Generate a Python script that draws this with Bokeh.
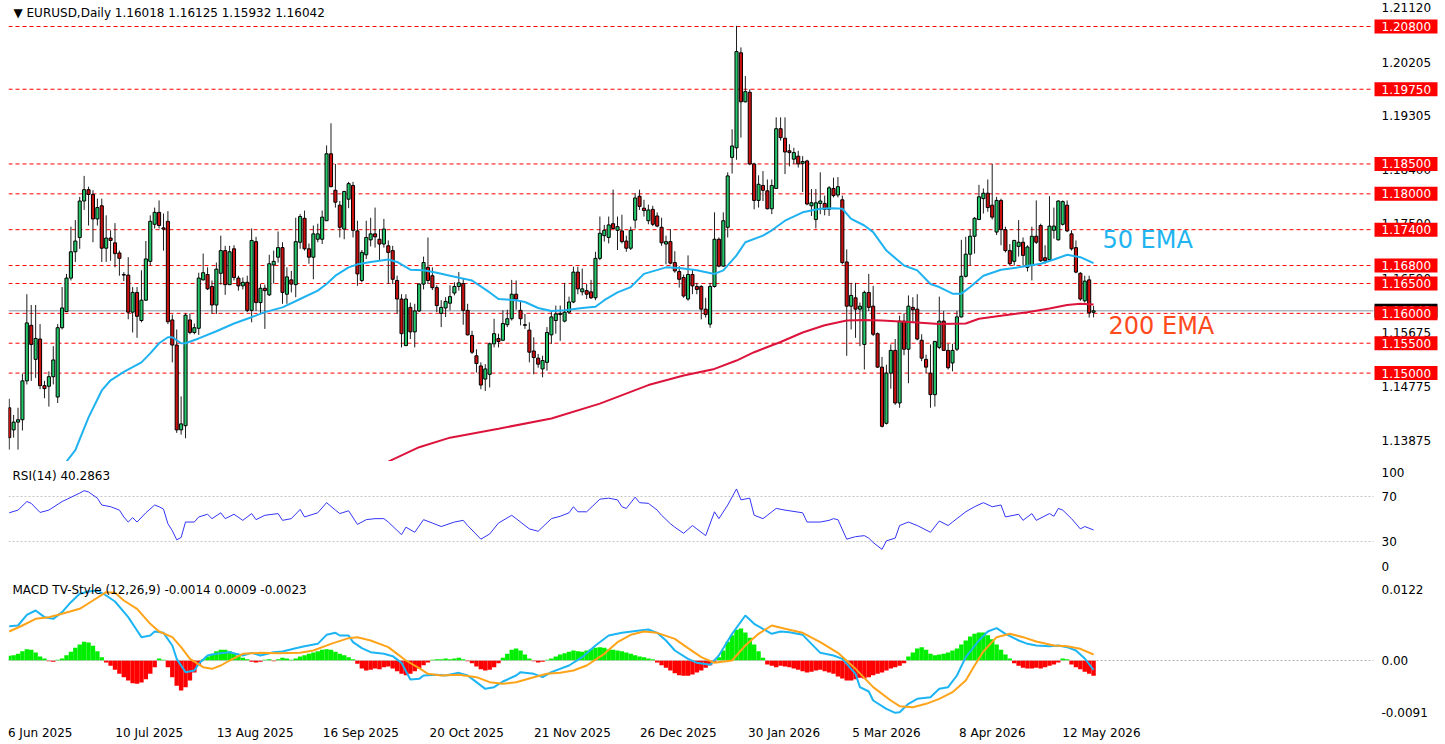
import numpy as np
from bokeh.plotting import figure
from bokeh.layouts import column
from bokeh.models import Range1d, FixedTicker, Label, ColumnDataSource
from bokeh.core.properties import value
from bokeh.embed import file_html
from bokeh.resources import INLINE

# ---------------- data ----------------
opens = [
    1.1442, 1.1405, 1.1418, 1.1422, 1.1487, 1.1580, 1.1523, 1.1557, 1.1479, 1.1478,
    1.1494, 1.1460, 1.1576, 1.1603, 1.1659, 1.1703, 1.1727, 1.1788, 1.1807, 1.1799,
    1.1758, 1.1780, 1.1709, 1.1726, 1.1718, 1.1701, 1.1665, 1.1664, 1.1602, 1.1635,
    1.1588, 1.1622, 1.1687, 1.1749, 1.1769, 1.1743, 1.1754, 1.1589, 1.1547, 1.1405,
    1.1412, 1.1589, 1.1568, 1.1575, 1.1656, 1.1665, 1.1645, 1.1614, 1.1667, 1.1705,
    1.1648, 1.1708, 1.1659, 1.1646, 1.1652, 1.1605, 1.1720, 1.1618, 1.1642, 1.1631,
    1.1681, 1.1694, 1.1710, 1.1632, 1.1656, 1.1648, 1.1719, 1.1759, 1.1708, 1.1694,
    1.1724, 1.1724, 1.1755, 1.1867, 1.1806, 1.1781, 1.1741, 1.1791, 1.1814, 1.1738,
    1.1655, 1.1698, 1.1723, 1.1733, 1.1724, 1.1716, 1.1713, 1.1705, 1.1655, 1.1624,
    1.1546, 1.1610, 1.1569, 1.1604, 1.1649, 1.1677, 1.1663, 1.1643, 1.1600, 1.1609,
    1.1617, 1.1634, 1.1645, 1.1650, 1.1605, 1.1563, 1.1529, 1.1512, 1.1490, 1.1498,
    1.1549, 1.1558, 1.1555, 1.1581, 1.1591, 1.1632, 1.1605, 1.1581, 1.1572, 1.1537,
    1.1525, 1.1507, 1.1518, 1.1564, 1.1588, 1.1598, 1.1587, 1.1602, 1.1619, 1.1669,
    1.1636, 1.1638, 1.1636, 1.1626, 1.1692, 1.1730, 1.1727, 1.1750, 1.1739, 1.1738,
    1.1721, 1.1709, 1.1756, 1.1796, 1.1776, 1.1755, 1.1774, 1.1763, 1.1744, 1.1716,
    1.1720, 1.1685, 1.1670, 1.1660, 1.1624, 1.1665, 1.1645, 1.1645, 1.1607, 1.1582,
    1.1645, 1.1724, 1.1679, 1.1744, 1.1861, 1.1877, 1.2036, 1.1954, 1.1970, 1.1850,
    1.1789, 1.1814, 1.1805, 1.1775, 1.1809, 1.1909, 1.1893, 1.1872, 1.1858, 1.1863,
    1.1851, 1.1855, 1.1780, 1.1757, 1.1784, 1.1784, 1.1774, 1.1809, 1.1798, 1.1790,
    1.1686, 1.1612, 1.1626, 1.1607, 1.1548, 1.1635, 1.1612, 1.1566, 1.1510, 1.1416,
    1.1500, 1.1538, 1.1450, 1.1587, 1.1540, 1.1610, 1.1607, 1.1555, 1.1523, 1.1500,
    1.1464, 1.1543, 1.1587, 1.1538, 1.1517, 1.1540, 1.1594, 1.1662, 1.1699, 1.1729,
    1.1757, 1.1792, 1.1801, 1.1781, 1.1736, 1.1789, 1.1740, 1.1705, 1.1687, 1.1712,
    1.1719, 1.1677, 1.1680, 1.1729, 1.1747, 1.1693, 1.1690, 1.1739, 1.1723, 1.1749,
    1.1781, 1.1733, 1.1710, 1.1667, 1.1621, 1.1656, 1.16018]
highs = [
    1.1457, 1.1430, 1.1442, 1.1499, 1.1632, 1.1614, 1.1614, 1.1582, 1.1487, 1.1503,
    1.1545, 1.1582, 1.1644, 1.1666, 1.1745, 1.1756, 1.1795, 1.1830, 1.1812, 1.1806,
    1.1792, 1.1792, 1.1764, 1.1739, 1.1751, 1.1705, 1.1669, 1.1694, 1.1644, 1.1644,
    1.1672, 1.1721, 1.1764, 1.1777, 1.1789, 1.1767, 1.1771, 1.1598, 1.1573, 1.1461,
    1.1600, 1.1600, 1.1583, 1.1668, 1.1700, 1.1677, 1.1655, 1.1685, 1.1730, 1.1713,
    1.1713, 1.1714, 1.1663, 1.1660, 1.1663, 1.1742, 1.1728, 1.1649, 1.1648, 1.1698,
    1.1705, 1.1737, 1.1719, 1.1677, 1.1671, 1.1760, 1.1766, 1.1772, 1.1717, 1.1747,
    1.1750, 1.1772, 1.1881, 1.1918, 1.1850, 1.1788, 1.1805, 1.1820, 1.1820, 1.1755,
    1.1706, 1.1755, 1.1760, 1.1777, 1.1741, 1.1758, 1.1722, 1.1713, 1.1663, 1.1632,
    1.1632, 1.1618, 1.1616, 1.1650, 1.1695, 1.1727, 1.1677, 1.1647, 1.1622, 1.1627,
    1.1647, 1.1652, 1.1669, 1.1658, 1.1616, 1.1571, 1.1540, 1.1518, 1.1515, 1.1551,
    1.1591, 1.1566, 1.1605, 1.1606, 1.1656, 1.1655, 1.1622, 1.1599, 1.1585, 1.1560,
    1.1532, 1.1529, 1.1577, 1.1602, 1.1613, 1.1613, 1.1651, 1.1628, 1.1678, 1.1678,
    1.1675, 1.1649, 1.1656, 1.1703, 1.1762, 1.1748, 1.1762, 1.1807, 1.1762, 1.1765,
    1.1730, 1.1745, 1.1801, 1.1807, 1.1790, 1.1782, 1.1780, 1.1769, 1.1760, 1.1730,
    1.1741, 1.1704, 1.1679, 1.1665, 1.1697, 1.1674, 1.1651, 1.1647, 1.1626, 1.1651,
    1.1769, 1.1727, 1.1769, 1.1836, 1.1908, 1.2081, 1.2045, 1.1997, 1.1975, 1.1852,
    1.1831, 1.1838, 1.1824, 1.1824, 1.1928, 1.1928, 1.1928, 1.1883, 1.1877, 1.1872,
    1.1863, 1.1857, 1.1808, 1.1808, 1.1836, 1.1797, 1.1813, 1.1827, 1.1828, 1.1797,
    1.1707, 1.1651, 1.1651, 1.1618, 1.1638, 1.1666, 1.1646, 1.1568, 1.1527, 1.1514,
    1.1548, 1.1557, 1.1596, 1.1600, 1.1630, 1.1627, 1.1632, 1.1565, 1.1531, 1.1548,
    1.1554, 1.1628, 1.1604, 1.1549, 1.1549, 1.1604, 1.1723, 1.1728, 1.1740, 1.1761,
    1.1815, 1.1809, 1.1824, 1.1850, 1.1795, 1.1792, 1.1745, 1.1716, 1.1723, 1.1756,
    1.1727, 1.1714, 1.1745, 1.1789, 1.1750, 1.1714, 1.1796, 1.1777, 1.1789, 1.1789,
    1.1789, 1.1739, 1.1722, 1.1669, 1.1663, 1.1663, 1.16125]
lows = [
    1.1372, 1.1392, 1.1372, 1.1404, 1.1481, 1.1487, 1.1492, 1.1473, 1.1458, 1.1444,
    1.1481, 1.1450, 1.1573, 1.1602, 1.1655, 1.1686, 1.1708, 1.1773, 1.1747, 1.1719,
    1.1747, 1.1686, 1.1686, 1.1688, 1.1677, 1.1663, 1.1654, 1.1590, 1.1568, 1.1559,
    1.1585, 1.1621, 1.1680, 1.1742, 1.1742, 1.1705, 1.1582, 1.1518, 1.1400, 1.1397,
    1.1391, 1.1565, 1.1565, 1.1564, 1.1655, 1.1639, 1.1599, 1.1599, 1.1648, 1.1631,
    1.1648, 1.1655, 1.1638, 1.1640, 1.1602, 1.1585, 1.1604, 1.1599, 1.1574, 1.1629,
    1.1650, 1.1685, 1.1616, 1.1616, 1.1635, 1.1627, 1.1708, 1.1705, 1.1683, 1.1657,
    1.1719, 1.1716, 1.1755, 1.1811, 1.1777, 1.1727, 1.1724, 1.1776, 1.1727, 1.1646,
    1.1652, 1.1691, 1.1712, 1.1710, 1.1689, 1.1710, 1.1649, 1.1649, 1.1599, 1.1543,
    1.1546, 1.1557, 1.1543, 1.1602, 1.1640, 1.1649, 1.1639, 1.1602, 1.1577, 1.1594,
    1.1605, 1.1630, 1.1638, 1.1581, 1.1563, 1.1532, 1.1501, 1.1473, 1.1470, 1.1476,
    1.1543, 1.1543, 1.1554, 1.1577, 1.1588, 1.1606, 1.1580, 1.1574, 1.1518, 1.1498,
    1.1509, 1.1493, 1.1504, 1.1549, 1.1566, 1.1554, 1.1585, 1.1599, 1.1617, 1.1632,
    1.1630, 1.1624, 1.1624, 1.1622, 1.1689, 1.1720, 1.1717, 1.1742, 1.1706, 1.1717,
    1.1703, 1.1706, 1.1742, 1.1773, 1.1762, 1.1749, 1.1746, 1.1744, 1.1713, 1.1682,
    1.1682, 1.1668, 1.1643, 1.1626, 1.1621, 1.1632, 1.1632, 1.1590, 1.1593, 1.1576,
    1.1643, 1.1677, 1.1678, 1.1727, 1.1834, 1.1857, 1.1894, 1.1953, 1.1848, 1.1774,
    1.1777, 1.1788, 1.1774, 1.1766, 1.1808, 1.1889, 1.1833, 1.1846, 1.1850, 1.1844,
    1.1803, 1.1781, 1.1763, 1.1742, 1.1766, 1.1764, 1.1763, 1.1794, 1.1794, 1.1682,
    1.1529, 1.1573, 1.1559, 1.1545, 1.1506, 1.1604, 1.1562, 1.1509, 1.1409, 1.1414,
    1.1474, 1.1447, 1.1442, 1.1530, 1.1483, 1.1585, 1.1555, 1.1520, 1.1500, 1.1442,
    1.1444, 1.1540, 1.1537, 1.1506, 1.1503, 1.1537, 1.1593, 1.1660, 1.1680, 1.1700,
    1.1756, 1.1767, 1.1770, 1.1757, 1.1731, 1.1714, 1.1702, 1.1680, 1.1680, 1.1695,
    1.1680, 1.1670, 1.1655, 1.1716, 1.1686, 1.1683, 1.1688, 1.1725, 1.1722, 1.1747,
    1.1736, 1.1705, 1.1667, 1.1621, 1.1618, 1.1593, 1.15932]
closes = [
    1.1392, 1.1418, 1.1422, 1.1487, 1.1584, 1.1548, 1.1558, 1.1479, 1.1474, 1.1494,
    1.1522, 1.1576, 1.1609, 1.1659, 1.1703, 1.1721, 1.1788, 1.1807, 1.1799, 1.1758,
    1.1777, 1.1709, 1.1726, 1.1722, 1.1700, 1.1692, 1.1664, 1.1602, 1.1635, 1.1595,
    1.1622, 1.1691, 1.1754, 1.1769, 1.1747, 1.1741, 1.1586, 1.1547, 1.1405, 1.1415,
    1.1597, 1.1568, 1.1576, 1.1659, 1.1668, 1.1641, 1.1614, 1.1674, 1.1705, 1.1648,
    1.1703, 1.1660, 1.1646, 1.1652, 1.1605, 1.1722, 1.1618, 1.1642, 1.1638, 1.1683,
    1.1687, 1.1710, 1.1635, 1.1661, 1.1649, 1.1720, 1.1762, 1.1708, 1.1694, 1.1733,
    1.1733, 1.1761, 1.1867, 1.1812, 1.1786, 1.1744, 1.1804, 1.1817, 1.1739, 1.1666,
    1.1702, 1.1727, 1.1733, 1.1728, 1.1716, 1.1741, 1.1702, 1.1657, 1.1624, 1.1566,
    1.1624, 1.1569, 1.1604, 1.1649, 1.1685, 1.1655, 1.1643, 1.1613, 1.1610, 1.1620,
    1.1628, 1.1645, 1.1651, 1.1605, 1.1564, 1.1535, 1.1516, 1.1480, 1.1507, 1.1549,
    1.1566, 1.1553, 1.1583, 1.1591, 1.1632, 1.1624, 1.1591, 1.1580, 1.1535, 1.1526,
    1.1515, 1.1521, 1.1568, 1.1594, 1.1599, 1.1600, 1.1602, 1.1619, 1.1669, 1.1641,
    1.1641, 1.1632, 1.1626, 1.1692, 1.1734, 1.1739, 1.1748, 1.1742, 1.1745, 1.1720,
    1.1709, 1.1739, 1.1793, 1.1779, 1.1772, 1.1773, 1.1749, 1.1746, 1.1718, 1.1720,
    1.1684, 1.1671, 1.1657, 1.1629, 1.1665, 1.1646, 1.1640, 1.1607, 1.1598, 1.1645,
    1.1724, 1.1679, 1.1755, 1.1830, 1.1880, 1.2038, 1.1954, 1.1971, 1.1850, 1.1789,
    1.1816, 1.1806, 1.1775, 1.1814, 1.1909, 1.1894, 1.1870, 1.1869, 1.1869, 1.1850,
    1.1854, 1.1783, 1.1785, 1.1785, 1.1788, 1.1774, 1.1810, 1.1797, 1.1812, 1.1685,
    1.1612, 1.1630, 1.1607, 1.1612, 1.1635, 1.1610, 1.1565, 1.1510, 1.1411, 1.1500,
    1.1538, 1.1450, 1.1587, 1.1540, 1.1612, 1.1606, 1.1557, 1.1525, 1.1510, 1.1464,
    1.1553, 1.1587, 1.1538, 1.1509, 1.1538, 1.1594, 1.1662, 1.1699, 1.1729, 1.1759,
    1.1795, 1.1801, 1.1777, 1.1761, 1.1789, 1.1740, 1.1705, 1.1683, 1.1722, 1.1719,
    1.1697, 1.1711, 1.1729, 1.1719, 1.1688, 1.1688, 1.1746, 1.1746, 1.1788, 1.1787,
    1.1738, 1.1708, 1.1669, 1.1624, 1.1654, 1.1601, 1.16042]

ema50_idx = [12, 13, 15, 18, 21, 23, 26, 30, 32, 34, 36, 37, 39, 40, 43, 47, 51, 54, 58, 62,
             66, 70, 72, 74, 77, 79, 82, 86, 88, 91, 94, 97, 100, 105, 109, 111, 115, 117, 120, 123,
             126, 130, 133, 135, 138, 141, 144, 149, 152, 156, 160, 162, 165, 167, 171, 173, 176, 180, 184, 187,
             189, 191, 194, 196, 199, 203, 206, 209, 211, 214, 216, 218, 221, 225, 229, 234, 237, 240, 243, 246]
ema50_val = [1.1335, 1.1352, 1.1371, 1.1426, 1.1471, 1.1488, 1.1502, 1.1518, 1.1533, 1.1550,
             1.1560, 1.1560, 1.1550, 1.1550, 1.1558, 1.1570, 1.1583, 1.1591, 1.1602, 1.1610,
             1.1624, 1.1638, 1.1649, 1.1663, 1.1677, 1.1682, 1.1686, 1.1690, 1.1686, 1.1673,
             1.1672, 1.1668, 1.1663, 1.1655, 1.1635, 1.1624, 1.1622, 1.1619, 1.1609, 1.1604,
             1.1605, 1.1609, 1.1611, 1.1622, 1.1635, 1.1644, 1.1666, 1.1677, 1.1676, 1.1672,
             1.1666, 1.1672, 1.1697, 1.1719, 1.1730, 1.1739, 1.1755, 1.1769, 1.1775, 1.1776,
             1.1775, 1.1758, 1.1747, 1.1736, 1.1705, 1.1680, 1.1672, 1.1649, 1.1644, 1.1633,
             1.1633, 1.1644, 1.1663, 1.1673, 1.1677, 1.1683, 1.1690, 1.1698, 1.1694, 1.1684]

ema200_idx = [86, 93, 100, 111, 123, 134, 145, 153, 160, 165, 169, 175, 180, 185, 190, 194,
              198, 205, 211, 217, 220, 225, 231, 236, 240, 243, 246]
ema200_val = [1.1352, 1.1376, 1.1392, 1.1407, 1.1424, 1.1449, 1.1480, 1.1496, 1.1507, 1.1521,
              1.1535, 1.1552, 1.1568, 1.1580, 1.1588, 1.1589, 1.1588, 1.1585, 1.1582, 1.1583,
              1.1591, 1.1596, 1.1602, 1.1608, 1.1614, 1.1616, 1.1615]

rsi_idx = [0, 2, 4, 5, 7, 9, 12, 16, 17, 18, 20, 21, 23, 25, 26, 27, 28, 29, 31, 33,
           34, 35, 36, 37, 38, 39, 40, 42, 43, 45, 46, 48, 49, 51, 53, 55, 56, 58, 61, 62,
           64, 66, 67, 70, 72, 74, 75, 77, 79, 81, 83, 85, 86, 89, 90, 92, 94, 96, 98, 101,
           103, 104, 107, 109, 111, 114, 115, 118, 120, 123, 125, 127, 128, 129, 131, 134, 136, 138, 139, 140,
           142, 143, 145, 147, 148, 150, 151, 153, 155, 156, 158, 160, 161, 163, 165, 166, 168, 169, 171, 172,
           174, 176, 180, 181, 184, 186, 187, 188, 190, 192, 194, 195, 196, 198, 199, 201, 202, 204, 206, 209,
           211, 213, 214, 217, 219, 221, 223, 225, 226, 229, 230, 232, 233, 236, 237, 238, 239, 241, 243, 244, 246]
rsi_val = [55.5, 57.9, 65.5, 63.9, 55.8, 57.9, 65.5, 73.0, 75.2, 74.0, 68.5, 62.4, 60.9, 57.9, 51.8, 47.3, 51.2, 47.3, 55.5, 62.4,
           60.9, 58.8, 45.8, 39.7, 31.5, 33.6, 47.3, 47.3, 51.8, 54.2, 50.3, 55.5, 50.3, 54.2, 48.8, 54.8, 49.4, 53.3, 54.8, 48.8,
           50.3, 58.5, 51.8, 55.5, 64.5, 57.9, 54.8, 57.3, 45.2, 49.4, 50.3, 50.3, 47.3, 36.1, 42.7, 38.2, 49.4, 46.4, 43.3, 47.3,
           48.8, 44.2, 32.1, 36.7, 46.4, 53.3, 50.3, 41.2, 39.1, 50.3, 52.4, 55.5, 60.9, 56.4, 56.4, 67.6, 68.5, 67.0, 60.9, 59.4,
           69.4, 64.5, 63.9, 57.9, 53.3, 45.8, 42.7, 37.3, 44.2, 41.2, 35.2, 56.4, 50.3, 62.4, 76.7, 67.0, 68.5, 53.3, 50.3, 53.3,
           59.4, 57.9, 55.5, 47.3, 47.3, 48.8, 50.3, 49.4, 32.1, 34.3, 35.2, 33.0, 29.1, 23.0, 30.6, 33.0, 44.2, 47.3, 44.2, 38.2,
           48.2, 44.2, 47.3, 56.4, 60.9, 64.5, 60.9, 62.4, 51.8, 54.2, 48.8, 54.8, 48.8, 54.8, 52.4, 59.4, 57.9, 50.3, 41.2, 43.3, 40.2863]

macd_idx = [0, 2, 4, 6, 8, 10, 12, 14, 16, 18, 20, 22, 24, 27, 29, 30, 32, 33, 35, 37,
            38, 40, 42, 43, 45, 47, 50, 53, 55, 57, 60, 62, 65, 67, 70, 72, 74, 75, 77, 78,
            80, 82, 85, 87, 89, 91, 93, 94, 97, 99, 102, 104, 106, 108, 110, 112, 115, 116, 119, 121,
            123, 127, 130, 133, 136, 139, 143, 145, 147, 149, 151, 154, 156, 159, 161, 164, 167, 169, 171, 173,
            175, 177, 180, 182, 184, 187, 189, 192, 193, 195, 196, 199, 201, 202, 204, 206, 209, 211, 213, 215,
            217, 220, 222, 224, 226, 229, 231, 233, 236, 238, 240, 242, 244, 246]
macd_val = [0.00515, 0.00525, 0.00685, 0.0075, 0.0065, 0.00625, 0.00725, 0.00875, 0.0100, 0.01035,
            0.0105, 0.00975, 0.00885, 0.0065, 0.0045, 0.0035, 0.00375, 0.00435, 0.00415, 0.00225,
            0.00025, -0.00175, -0.0015, -0.0005, 0.00075, 0.0010, 0.00125, 0.00075, 0.00115, 0.00075,
            0.00125, 0.00135, 0.00185, 0.00215, 0.0025, 0.00385, 0.00415, 0.00375, 0.00375, 0.00275,
            0.00185, 0.00125, 0.0010, 0.00065, -0.00035, -0.00285, -0.00275, -0.00225, -0.00215, -0.00225,
            -0.00185, -0.00225, -0.00325, -0.00425, -0.0040, -0.00315, -0.00225, -0.00175, -0.0020, -0.0025,
            -0.00175, -0.00075, 0.0005, 0.00225, 0.00375, 0.00415, 0.0045, 0.00465, 0.00415, 0.0030,
            0.0015, 0.00025, -0.00035, -0.00065, 0.00075, 0.0040, 0.00675, 0.0055, 0.00475, 0.0040,
            0.00435, 0.00425, 0.00385, 0.0025, 0.00115, 0.00075, 0.00025, -0.0020, -0.0040, -0.00465,
            -0.0060, -0.00725, -0.00785, -0.00775, -0.0065, -0.00575, -0.0055, -0.00425, -0.0040, -0.00225,
            0.0005, 0.0030, 0.00435, 0.00485, 0.0040, 0.0030, 0.0025, 0.00225, 0.00215, 0.00225,
            0.0020, 0.0015, 0.0003, -0.0014]

signal_idx = [0, 3, 6, 9, 12, 16, 19, 22, 24, 26, 29, 32, 34, 37, 39, 41, 44, 46, 48, 50,
              53, 57, 61, 66, 69, 73, 77, 79, 82, 86, 88, 90, 93, 95, 98, 102, 106, 109, 112, 115,
              119, 122, 125, 128, 131, 135, 138, 141, 144, 147, 151, 154, 157, 160, 164, 167, 170, 173, 176, 180,
              184, 188, 192, 196, 200, 202, 205, 208, 211, 214, 217, 219, 221, 224, 227, 230, 233, 237, 240, 243, 246]
signal_val = [0.00435, 0.00525, 0.00625, 0.0065, 0.0070, 0.00775, 0.0090, 0.01025, 0.01015, 0.0090,
              0.00775, 0.0055, 0.00435, 0.0035, 0.0020, 0.00025, -0.0010, -0.00125, -0.00075, 0.0,
              0.0010, 0.00115, 0.0011, 0.00115, 0.0015, 0.0025, 0.00335, 0.0035, 0.0030, 0.0020,
              0.0010, 0.0, -0.00115, -0.0020, -0.00225, -0.00215, -0.0025, -0.00325, -0.0035, -0.00325,
              -0.0025, -0.0020, -0.00185, -0.0015, -0.00075, 0.0010, 0.00275, 0.00385, 0.00435, 0.00415,
              0.00325, 0.00185, 0.0005, -0.00035, 0.0, 0.00225, 0.0040, 0.00525, 0.00475, 0.00415,
              0.00275, 0.00115, -0.00125, -0.0040, -0.0060, -0.00685, -0.0070, -0.0065, -0.00575, -0.00475,
              -0.0030, -0.00075, 0.00135, 0.0035, 0.0040, 0.0035, 0.00285, 0.00225, 0.00215, 0.00175, 0.0009]

# histogram, one value per bar, in units of 0.0001
hist_e4 = [
    7, 8, 10, 14, 17, 16, 12, 6, 3,
    -1, -2, 1,
    3, 8, 13, 19, 24, 28, 27, 22, 14, 5,
    -3, -8, -14, -20, -25, -30, -34, -35, -33, -28, -20, -10,
    3, 1,
    -10, -25, -38, -45, -40, -30, -18, -7,
    2,
    6, 10, 14, 16, 16, 14, 10, 7, 4,
    2, -2, -3, -2, 1, 2, -1, 2, 4, 3, 1,
    3, 6, 8, 10, 12, 14, 16, 17, 16, 13, 10, 8, 5, 2,
    -5, -12, -15, -14, -12, -13, -10, -9, -12, -16, -20, -22, -20, -16, -12, -7, -3,
    1, 2, 2, 3, 2, 3, 4, 2, -1,
    -4, -9, -13, -15, -14, -10, -4,
    4, 10, 16, 18, 15, 9, 3,
    -1, -3, -2, 1,
    3, 6, 9, 11, 13, 15, 14, 13, 15, 17, 19, 20, 19, 17, 16, 15, 14, 12, 10, 8, 6, 5, 3, 2,
    -3, -7, -11, -15, -19, -22, -23, -23, -21, -18, -15, -11, -7, -2,
    5, 15, 28, 38, 46, 48, 42, 34, 24, 14, 4,
    -6, -8, -10, -8, -9, -10, -12, -14, -16, -18, -17, -15, -14, -16, -18, -20,
    -24, -27, -30, -30, -28, -26, -27, -25, -22, -20, -18, -15, -12, -10, -8, -4,
    6, 12, 18, 20, 16, 10, 8, 9, 10, 12, 15, 18, 24, 30, 36, 40, 42, 42, 38, 32, 24, 16, 9, 3,
    -4, -8, -11, -12, -12, -11, -12, -10, -8, -6, -3,
    3, 2,
    -6, -10, -13, -17, -20, -23]

date_bars = [0, 24, 48, 72, 96, 120, 144, 168, 192, 216, 240]
date_labels = ["6 Jun 2025", "10 Jul 2025", "13 Aug 2025", "16 Sep 2025", "20 Oct 2025",
               "21 Nov 2025", "26 Dec 2025", "30 Jan 2026", "5 Mar 2026", "8 Apr 2026", "12 May 2026"]

price_ticks = [1.21120, 1.20205, 1.19305, 1.18400, 1.17500, 1.16590, 1.15675, 1.14775, 1.13875]
level_lines = [1.208, 1.1975, 1.185, 1.18, 1.174, 1.168, 1.165, 1.16, 1.155, 1.15]
last_price = 1.16042

rsi_tick_vals = [91.3, 70, 30, 7.8]
rsi_tick_text = ["100", "70", "30", "0"]
macd_tick_vals = [0.01065, 0.0, -0.0078]
macd_tick_text = ["0.0122", "0.00", "-0.0091"]

title_text = "\u25bc EURUSD,Daily  1.16018 1.16125 1.15932 1.16042"
rsi_text = "RSI(14) 40.2863"
macd_text = "MACD TV-Style (12,26,9) -0.0014 0.0009 -0.0023"

# ---------------- styling / layout ----------------
FONT = "DejaVu Sans"
FS = "12px"
BAR_PX = 4.408          # pixels per daily bar
LEFT_W = 8
FRAME_W = 1435          # chart area + price scale strip
X0 = -0.16
x_range = Range1d(X0, X0 + FRAME_W / BAR_PX)


def px_to_x(page_x):
    return X0 + (page_x - LEFT_W) / BAR_PX


DATA_END = px_to_x(1373)      # end of the price area (start of the price scale)
SCALE_TEXT_X = px_to_x(1381)  # left edge of the price-scale texts
BOX_CX = px_to_x(1405.5)      # centre of the price boxes
BOX_W, BOX_H = 63, 14

BULL = "#25C76A"
BEAR = "#CC0F0F"


def base_fig(frame_h, y_rng, top_border, bottom_border=0, x_axis=None):
    f = figure(frame_width=FRAME_W, frame_height=frame_h, x_range=x_range, y_range=y_rng,
               y_axis_location=None, x_axis_location=x_axis,
               output_backend="svg", toolbar_location=None, tools="",
               min_border_left=LEFT_W, min_border_right=0, min_border_top=top_border,
               min_border_bottom=bottom_border, background_fill_color="white",
               border_fill_color="white", outline_line_color=None)
    f.grid.visible = False
    return f


def scale_texts(f, ys, texts, color="#000000"):
    f.text(x=[SCALE_TEXT_X] * len(ys), y=ys, text=texts, text_font=value(FONT),
           text_font_size=value(FS), text_color=color, text_baseline="middle",
           text_align="left")


def hlines(f, ys, color, dash, width=1):
    n = len(ys)
    f.segment(x0=[X0] * n, x1=[DATA_END] * n, y0=ys, y1=ys, line_color=color,
              line_dash=dash, line_width=width)


# ---- main price panel ----
p = base_fig(461, Range1d(1.135209, 1.212351), 0)

hlines(p, level_lines, "#FF0000", "4 3")
hlines(p, [last_price], "#8795A5", "solid")

idx = list(range(len(closes)))
src = ColumnDataSource(dict(
    x=idx, o=opens, h=highs, l=lows, c=closes,
    top=[max(a, b) for a, b in zip(opens, closes)],
    bottom=[min(a, b) for a, b in zip(opens, closes)],
    color=[BULL if c >= o else BEAR for o, c in zip(opens, closes)],
))
p.segment(x0="x", y0="l", x1="x", y1="h", source=src, line_color="#1E1E1E", line_width=1)
p.vbar(x="x", width=0.7, top="top", bottom="bottom", fill_color="color",
       line_color="#000000", line_width=1, source=src)

p.line(ema50_idx, ema50_val, line_color="#1FB2F0", line_width=2)
p.line(ema200_idx, ema200_val, line_color="#DC143C", line_width=2)

p.add_layout(Label(x=248.0, y=1.1722, text="50 EMA", text_font=FONT, text_font_size="24px",
                   text_color="#22B4F0", text_baseline="middle", text_align="left"))
p.add_layout(Label(x=249.4, y=1.1578, text="200  EMA", text_font=FONT, text_font_size="24px",
                   text_color="#FF4A1C", text_baseline="middle", text_align="left"))
p.add_layout(Label(x=0.97, y=1.21018, text=title_text, text_font=FONT, text_font_size=FS,
                   text_color="#000000", text_baseline="middle", text_align="left"))

# price scale: plain values, then the current-price box, then the level boxes
scale_texts(p, price_ticks, ["%.5f" % t for t in price_ticks])
p.rect(x=[BOX_CX], y=[last_price], width=BOX_W, height=BOX_H, width_units="screen",
       height_units="screen", fill_color="#000000", line_color=None)
scale_texts(p, [last_price], ["%.5f" % last_price], color="#FFFFFF")
p.rect(x=[BOX_CX] * len(level_lines), y=level_lines, width=BOX_W, height=BOX_H,
       width_units="screen", height_units="screen", fill_color="#FF0000", line_color=None)
scale_texts(p, level_lines, ["%.5f" % v for v in level_lines], color="#FFFFFF")

# ---- RSI panel ----
r = base_fig(112, Range1d(-0.2, 99.3), 2)
hlines(r, [70, 30], "#C4C4C4", "2 2")
r.line(rsi_idx, rsi_val, line_color="#3434F5", line_width=1)
scale_texts(r, rsi_tick_vals, rsi_tick_text)
r.add_layout(Label(x=0.75, y=88.6, text=rsi_text, text_font=FONT, text_font_size=FS,
                   text_color="#000000", text_baseline="middle", text_align="left"))

# ---- MACD panel ----
m = base_fig(142, Range1d(-0.0090, 0.0123), 3, bottom_border=22, x_axis="below")
hist = [v / 10000.0 for v in hist_e4]
m.vbar(x=idx, top=hist, bottom=0, width=1.0,
       fill_color=["#00EE00" if v >= 0 else "#FF0000" for v in hist], line_color=None)
hlines(m, [0.0], "#B4B4B4", "2 2")
m.line(macd_idx, macd_val, line_color="#1CB4F2", line_width=2)
m.line(signal_idx, signal_val, line_color="#FFA41A", line_width=2)
scale_texts(m, macd_tick_vals, macd_tick_text)
m.add_layout(Label(x=0.75, y=0.01065, text=macd_text, text_font=FONT, text_font_size=FS,
                   text_color="#000000", text_baseline="middle", text_align="left"))

# date axis: each label starts at its bar, so its centre sits half a label width to the right
CHAR_PX = 6.6
tick_pos = [round(b + (len(t) * CHAR_PX / 2.0 - 2.0) / BAR_PX, 3)
            for b, t in zip(date_bars, date_labels)]
xa = m.xaxis[0]
xa.ticker = FixedTicker(ticks=tick_pos)
xa.major_label_overrides = {tp: t for tp, t in zip(tick_pos, date_labels)}
xa.axis_line_color = None
xa.major_tick_line_color = None
xa.minor_tick_line_color = None
xa.major_tick_out = 0
xa.major_tick_in = 0
xa.major_label_standoff = 5
xa.major_label_text_font = FONT
xa.major_label_text_font_size = FS
xa.major_label_text_color = "#000000"

layout = column(p, r, m, spacing=0)
open("out.html", "w").write(file_html(layout, INLINE))
